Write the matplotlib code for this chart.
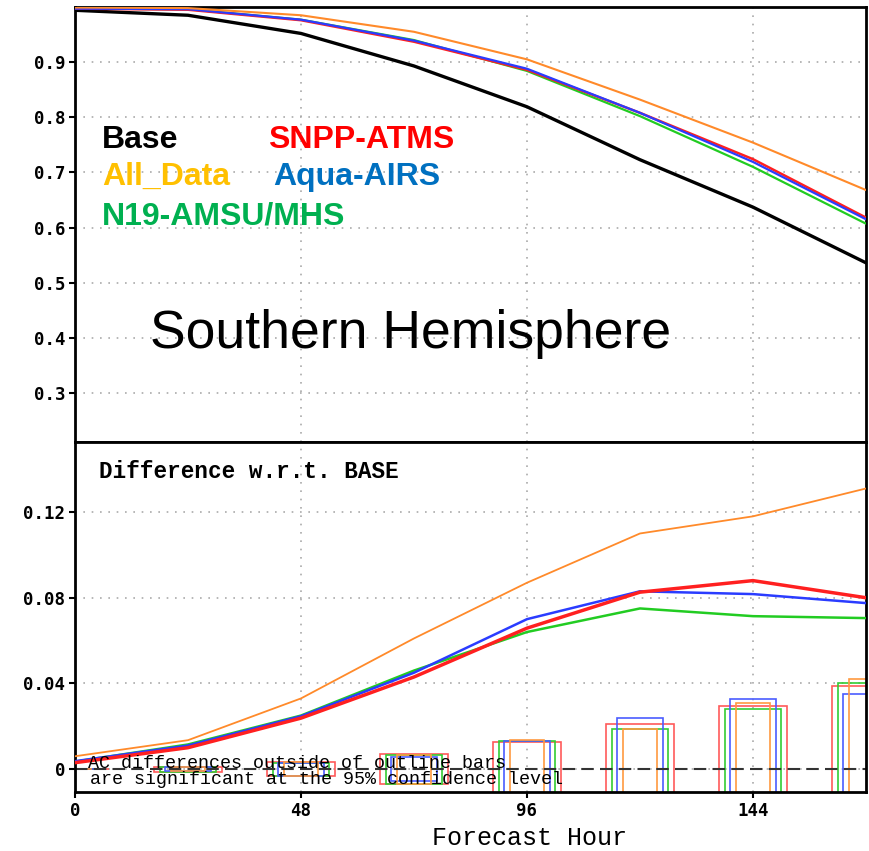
#!/usr/bin/env python3

import matplotlib
matplotlib.use("Agg")
import matplotlib.pyplot as plt

# forecast hours
hours = [0, 24, 48, 72, 96, 120, 144, 168]

# anomaly correlation, top panel
ac_base = [0.994, 0.985, 0.952, 0.893, 0.819, 0.723, 0.637, 0.536]
ac_all = [0.999, 0.998, 0.985, 0.955, 0.905, 0.832, 0.754, 0.668]
ac_snpp = [0.997, 0.995, 0.976, 0.937, 0.886, 0.808, 0.724, 0.618]
ac_aqua = [0.997, 0.996, 0.977, 0.939, 0.888, 0.808, 0.719, 0.615]
ac_n19 = [0.997, 0.996, 0.977, 0.940, 0.884, 0.802, 0.710, 0.607]

# difference w.r.t. base, bottom panel
d_all = [0.006, 0.0135, 0.033, 0.061, 0.087, 0.110, 0.118, 0.131]
d_snpp = [0.003, 0.010, 0.0238, 0.043, 0.0658, 0.0826, 0.088, 0.080]
d_aqua = [0.0037, 0.011, 0.0247, 0.045, 0.070, 0.083, 0.0817, 0.0775]
d_n19 = [0.0035, 0.0115, 0.025, 0.046, 0.064, 0.075, 0.0714, 0.0705]

# 95% significance half-widths (outline bars)
sig_snpp = [0.0, 0.0012, 0.0033, 0.0070, 0.0126, 0.0210, 0.0294, 0.0387]
sig_n19 = [0.0, 0.0012, 0.0030, 0.0068, 0.0130, 0.0187, 0.0280, 0.0400]
sig_aqua = [0.0, 0.0010, 0.0030, 0.0056, 0.0130, 0.0238, 0.0327, 0.0350]
sig_all = [0.0, 0.0010, 0.0033, 0.0068, 0.0135, 0.0187, 0.0308, 0.0420]

xticks = [0, 48, 96, 144]
top_yticks = [0.3, 0.4, 0.5, 0.6, 0.7, 0.8, 0.9]
bot_yticks = [0, 0.04, 0.08, 0.12]
bot_ylabels = ["0", "0.04", "0.08", "0.12"]

C_ORANGE = "#ff8a2a"
C_RED = "#ff2020"
C_BLUE = "#2a3cff"
C_GREEN = "#22cc22"

mono = "Liberation Mono"
tickfont = {"family": "DejaVu Sans Mono", "weight": "bold", "size": 12.5}

fig = plt.figure(figsize=(8.69, 8.51), dpi=100)
ax1 = fig.add_axes([0.0863, 0.4806, 0.9102, 0.5112])
ax2 = fig.add_axes([0.0863, 0.0693, 0.9102, 0.4113])

for ax in (ax1, ax2):
    ax.set_xlim(0, 168)
    ax.set_xticks(xticks)
    ax.grid(True, color="#aaaaaa", linestyle=(0, (1, 4)), linewidth=1.2)
    for s in ax.spines.values():
        s.set_linewidth(2.0)
    ax.tick_params(direction="out", length=4, width=1.5, pad=3)

# top panel
ax1.plot(hours, ac_base, color="black", lw=2.4, zorder=3)
ax1.plot(hours, ac_n19, color=C_GREEN, lw=1.6, zorder=3)
ax1.plot(hours, ac_snpp, color=C_RED, lw=1.8, zorder=3)
ax1.plot(hours, ac_aqua, color=C_BLUE, lw=1.6, zorder=3)
ax1.plot(hours, ac_all, color=C_ORANGE, lw=1.5, zorder=3)
ax1.set_ylim(0.211, 1.0)
ax1.set_yticks(top_yticks)
ax1.set_yticklabels([f"{v:.1f}" for v in top_yticks], fontdict=tickfont)
ax1.tick_params(axis="x", labelbottom=False, length=0)

leg = {"family": "Liberation Sans", "weight": "bold", "size": 23}
ax1.text(5.7, 0.744, "Base", color="black", va="baseline", **leg)
ax1.text(40.9, 0.744, "SNPP-ATMS", color="#ff0000", va="baseline", **leg)
ax1.text(5.7, 0.677, "All_Data", color="#ffc000", va="baseline", **leg)
ax1.text(42.0, 0.677, "Aqua-AIRS", color="#0070c0", va="baseline", **leg)
ax1.text(5.7, 0.605, "N19-AMSU/MHS", color="#00b050", va="baseline", **leg)
ax1.text(15.9, 0.382, "Southern Hemisphere", color="black", va="baseline",
         family="Liberation Sans", size=38.5)

# bottom panel: outline bars first
bars = [(sig_snpp, 14.6, "#ff5a5a"), (sig_n19, 11.9, "#33cc33"),
        (sig_aqua, 9.8, "#4a5cff"), (sig_all, 7.2, "#ff9a40")]
for sig, w, c in bars:
    ax2.bar(hours, [2 * v for v in sig], bottom=[-v for v in sig], width=w,
            fill=False, edgecolor=c, linewidth=1.2, zorder=2)

ax2.axhline(0, color="#333333", lw=1.5, linestyle=(0, (6, 3)), zorder=2.5)
ax2.plot(hours, d_all, color=C_ORANGE, lw=1.3, zorder=3)
ax2.plot(hours, d_n19, color=C_GREEN, lw=1.8, zorder=3)
ax2.plot(hours, d_aqua, color=C_BLUE, lw=1.8, zorder=3)
ax2.plot(hours, d_snpp, color=C_RED, lw=2.5, zorder=3)

ax2.set_ylim(-0.0107, 0.1527)
ax2.set_yticks(bot_yticks)
ax2.set_yticklabels(bot_ylabels, fontdict=tickfont)
ax2.set_xticklabels([str(h) for h in xticks], fontdict=tickfont)
ax2.set_xlabel("Forecast Hour", family=mono, size=18, va="center")
ax2.xaxis.set_label_coords(0.5746, -0.131)

ax2.text(5.1, 0.1387, "Difference w.r.t. BASE", family=mono, weight="bold",
         size=16.3, va="center")
ax2.text(2.8, 0.0028, "AC differences outside of outline bars", family=mono,
         size=13.2, va="center", zorder=4)
ax2.text(3.2, -0.0047, "are significant at the 95% confidence level",
         family=mono, size=13.2, va="center", zorder=4)

fig.savefig("out.png", dpi=100)
